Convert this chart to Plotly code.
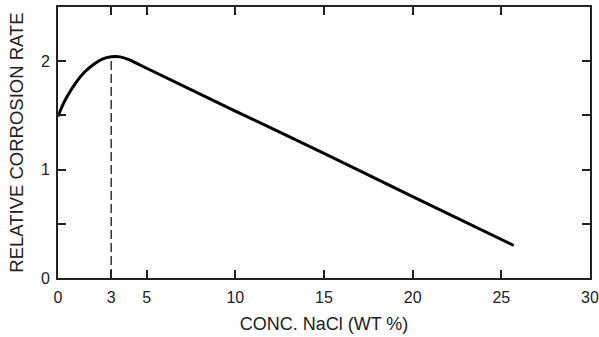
import plotly.graph_objects as go

conc = [0, 0.25, 0.5, 1, 1.5, 2, 2.5, 3, 3.5, 4, 4.5, 5, 10, 15, 20, 25.7]
rate = [1.49, 1.59, 1.67, 1.8, 1.9, 1.97, 2.02, 2.04, 2.04, 2.015, 1.975, 1.935, 1.54, 1.15, 0.75, 0.3]

peak_x = [3, 3]
peak_y = [0, 2.04]

x_tickvals = [0, 3, 5, 10, 15, 20, 25, 30]
x_ticktext = ["0", "3", "5", "10", "15", "20", "25", "30"]
y_tickvals = [0, 0.5, 1, 1.5, 2]
y_ticktext = ["0", "", "1", "", "2"]

fig = go.Figure()
fig.add_trace(go.Scatter(x=peak_x, y=peak_y, mode="lines",
                         line=dict(color="#333", width=1.5, dash="9px,4px"),
                         showlegend=False, hoverinfo="skip"))
fig.add_trace(go.Scatter(x=conc, y=rate, mode="lines",
                         line=dict(color="black", width=3, shape="spline", smoothing=0.8),
                         showlegend=False))

font = dict(family="Liberation Sans, Arial, sans-serif", color="#222")
fig.update_layout(
    width=599, height=337,
    margin=dict(l=58, r=9, t=7, b=59),
    paper_bgcolor="white", plot_bgcolor="white",
    font=dict(size=16, **font),
    xaxis=dict(range=[0, 30], tickvals=x_tickvals, ticktext=x_ticktext,
               automargin=False,
               showline=True, linecolor="#222", linewidth=2, mirror="ticks",
               ticks="inside", ticklen=8, tickcolor="#222", tickwidth=1.5,
               ticklabelstandoff=4,
               showgrid=False, zeroline=False,
               title=dict(text="CONC. NaCl (WT %)", font=dict(size=18, **font), standoff=12),
               tickfont=dict(size=16, **font)),
    yaxis=dict(range=[0, 2.5], tickvals=y_tickvals, ticktext=y_ticktext,
               automargin=False,
               showline=True, linecolor="#222", linewidth=2, mirror="ticks",
               ticks="inside", ticklen=8, tickcolor="#222", tickwidth=1.5,
               ticklabelstandoff=3,
               showgrid=False, zeroline=False,
               title=dict(text="RELATIVE CORROSION RATE", font=dict(size=18.5, **font), standoff=12),
               tickfont=dict(size=16, **font)),
)
fig.write_html("out.html", config={"displayModeBar": False},
               post_script="document.body.style.margin='0';")
